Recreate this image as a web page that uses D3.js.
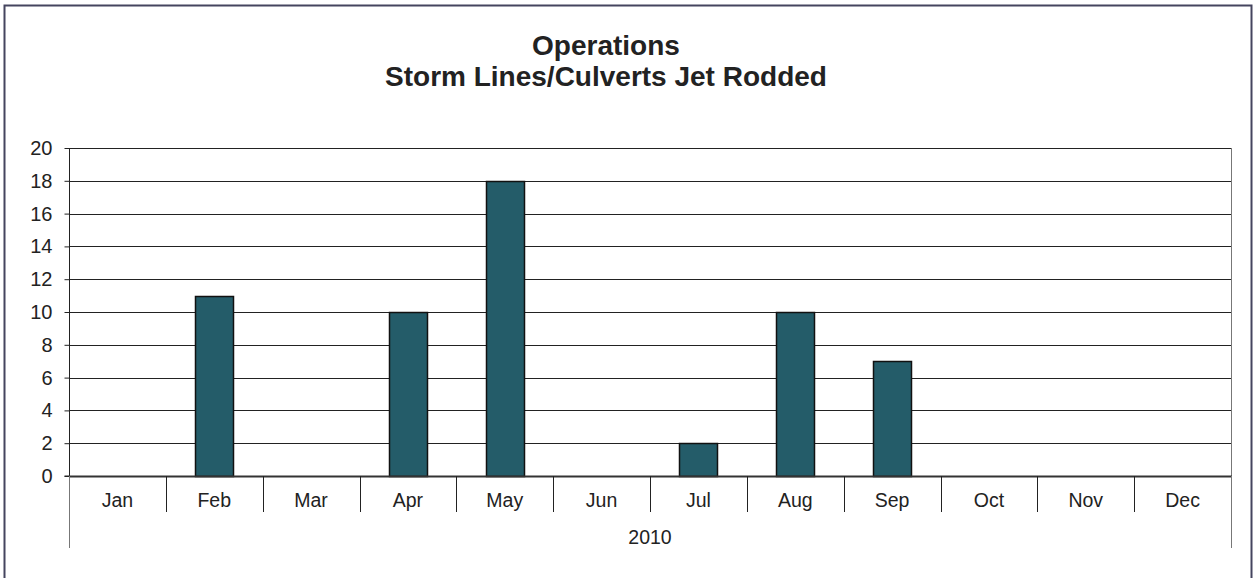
<!DOCTYPE html>
<html>
<head>
<meta charset="utf-8">
<script src="https://cdn.jsdelivr.net/npm/d3@7"></script>
<style>
    body { margin: 0; background: #fff; }
    text { font-family: 'Liberation Sans', Arial, sans-serif; fill: #222; }
</style>
</head>
<body>
<div id="chart"></div>
<script>
// chart data
const months = ['Jan', 'Feb', 'Mar', 'Apr', 'May', 'Jun', 'Jul', 'Aug', 'Sep', 'Oct', 'Nov', 'Dec'];
const jetRodded = [0, 11, 0, 10, 18, 0, 2, 10, 7, 0, 0, 0];
const yTicks = [0, 2, 4, 6, 8, 10, 12, 14, 16, 18, 20];
const yearLabel = '2010';
const titleLines = ['Operations', 'Storm Lines/Culverts Jet Rodded'];

const width = 1255;
const height = 578;
const margin = { top: 148, right: 24, bottom: 102, left: 69 };

const svg = d3.select('#chart')
    .append('svg')
    .attr('width', width)
    .attr('height', height);

// outer frame
svg.append('rect')
    .attr('x', 4.5).attr('y', 5.5)
    .attr('width', 1247).attr('height', 600)
    .attr('fill', 'none')
    .attr('stroke', '#45455f')
    .attr('stroke-width', 2);

const x = d3.scaleBand()
    .domain(months)
    .range([margin.left, width - margin.right]);

const y = d3.scaleLinear()
    .domain([0, 20])
    .range([height - margin.bottom, margin.top]);

// title
svg.append('g').selectAll('text')
    .data(titleLines)
    .join('text')
    .attr('x', 606)
    .attr('y', (d, i) => 55 + i * 31)
    .attr('text-anchor', 'middle')
    .attr('font-size', 28)
    .attr('font-weight', 'bold')
    .text(d => d);

// gridlines
svg.append('g').selectAll('line')
    .data(yTicks.filter(d => d > 0))
    .join('line')
    .attr('x1', margin.left).attr('x2', width - margin.right)
    .attr('y1', d => Math.round(y(d)) + 0.5).attr('y2', d => Math.round(y(d)) + 0.5)
    .attr('stroke', '#222')
    .attr('stroke-width', 1);

// right border of plot
svg.append('line')
    .attr('x1', width - margin.right + 0.5).attr('x2', width - margin.right + 0.5)
    .attr('y1', margin.top).attr('y2', y(0))
    .attr('stroke', '#777');

// y axis
const yAxis = svg.append('g')
    .attr('transform', `translate(${margin.left + 0.5},0)`)
    .call(d3.axisLeft(y).tickValues(yTicks).tickSize(5).tickPadding(12));
yAxis.selectAll('text').attr('font-size', 20).attr('fill', '#222');
yAxis.selectAll('line, path').attr('stroke', '#222');
yAxis.select('.domain').attr('d', `M-5,${y(0)}H0V${margin.top}`);

// bars
const bw = 38;
svg.append('g').selectAll('rect')
    .data(months.map((m, i) => ({ m, v: jetRodded[i] })).filter(d => d.v > 0))
    .join('rect')
    .attr('x', d => Math.round(x(d.m) + (x.bandwidth() - bw) / 2) + 0.5)
    .attr('y', d => Math.round(y(d.v)) + 0.5)
    .attr('width', bw)
    .attr('height', d => Math.round(y(0)) - Math.round(y(d.v)))
    .attr('fill', '#245c69')
    .attr('stroke', '#111')
    .attr('stroke-width', 1.5);

// zero line
svg.append('line')
    .attr('x1', margin.left).attr('x2', width - margin.right + 1)
    .attr('y1', Math.round(y(0)) + 0.5).attr('y2', Math.round(y(0)) + 0.5)
    .attr('stroke', '#333')
    .attr('stroke-width', 2);

// category dividers
const divs = d3.range(0, months.length + 1);
svg.append('g').selectAll('line')
    .data(divs)
    .join('line')
    .attr('x1', i => Math.round(margin.left + i * x.step()) + 0.5)
    .attr('x2', i => Math.round(margin.left + i * x.step()) + 0.5)
    .attr('y1', y(0))
    .attr('y2', (i) => (i === 0 || i === months.length) ? 548 : 512)
    .attr('stroke', (i) => (i === 0 || i === months.length) ? '#777' : '#222');

// month labels
svg.append('g').selectAll('text')
    .data(months)
    .join('text')
    .attr('x', d => x(d) + x.bandwidth() / 2)
    .attr('y', 507)
    .attr('text-anchor', 'middle')
    .attr('font-size', 19.5)
    .text(d => d);

// year label
svg.append('text')
    .attr('x', (margin.left + width - margin.right) / 2)
    .attr('y', 544)
    .attr('text-anchor', 'middle')
    .attr('font-size', 19.5)
    .text(yearLabel);
</script>
</body>
</html>
